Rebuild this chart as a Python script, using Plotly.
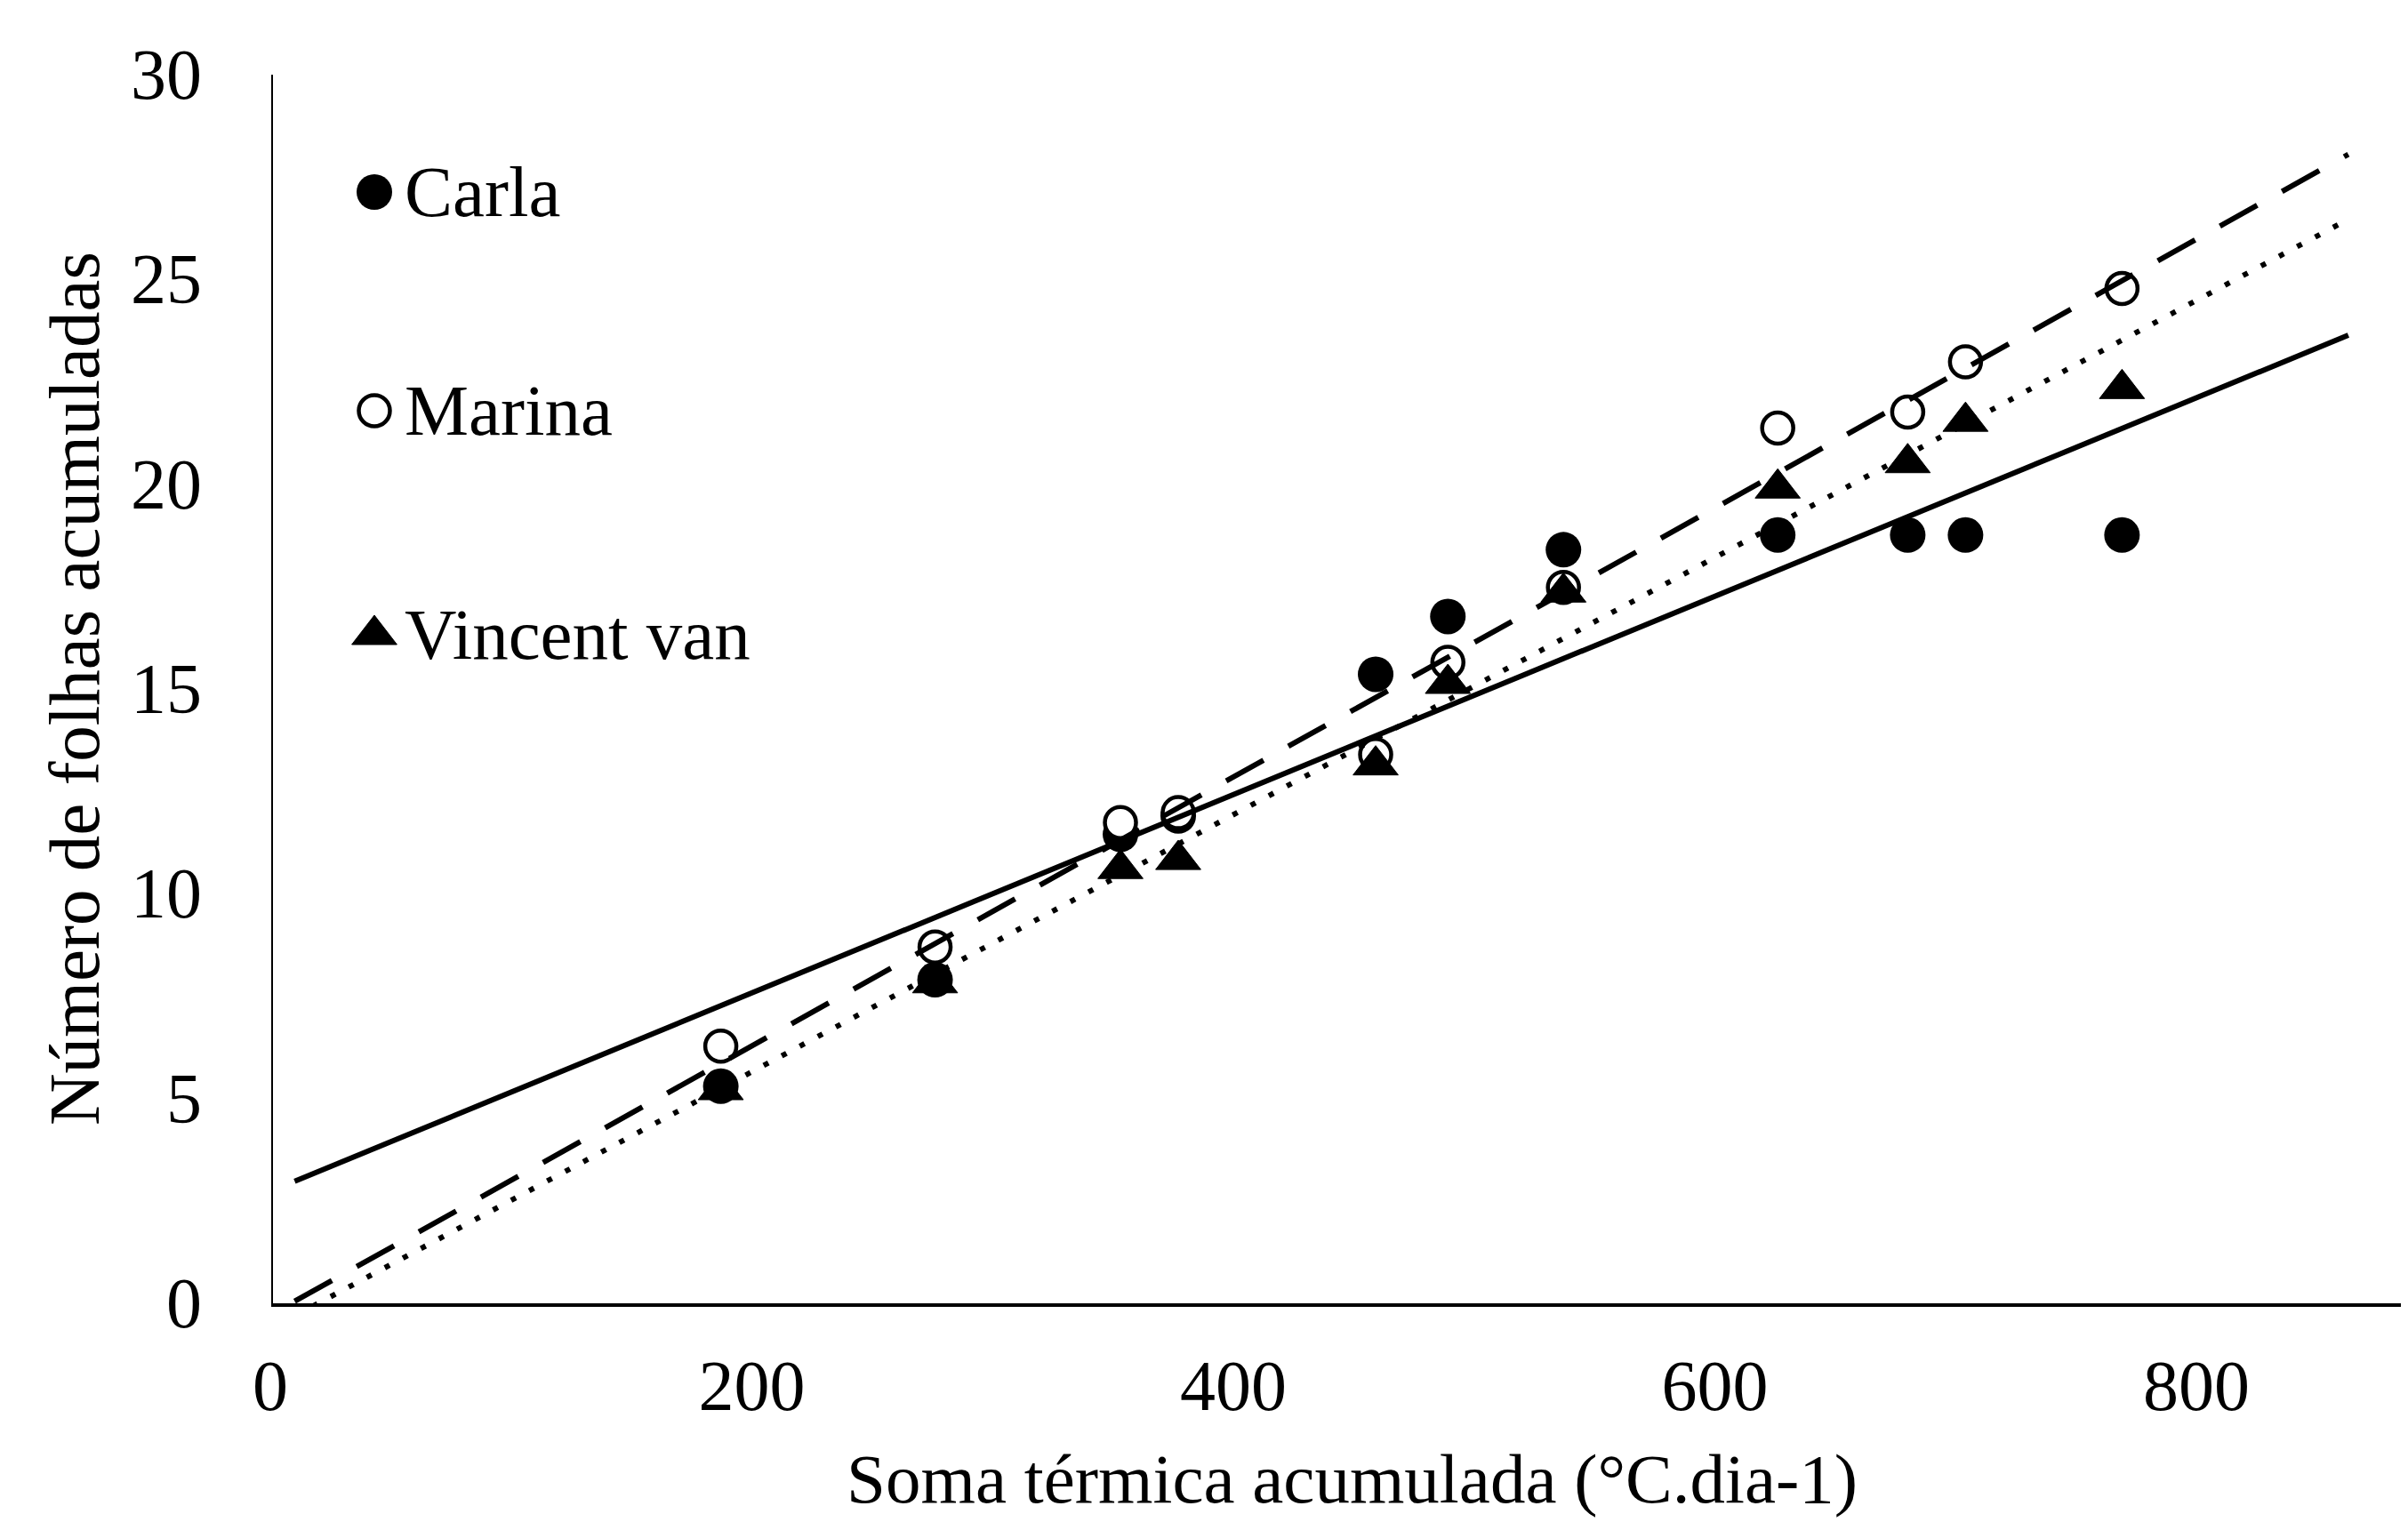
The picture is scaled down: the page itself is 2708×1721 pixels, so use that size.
import plotly.graph_objects as go
import numpy as np

# ---- data ----
soma_termica = [186, 275, 352, 376, 458, 488, 536, 625, 679, 703, 768]
carla = [5.3, 7.9, 11.45, 11.9, 15.36, 16.77, 18.4, 18.76, 18.76, 18.76, 18.76]
marina = [6.28, 8.70, 11.74, 11.98, 13.4, 15.65, 17.48, 21.37, 21.76, 22.99, 24.78]
vincent = [5.21, 7.82, 10.61, 10.83, 13.14, 15.13, 17.36, 19.9, 20.52, 21.53, 22.33]

series_names = ["Carla", "Marina", "Vincent van"]
# linear trend lines (intercept, slope)
trend_intercepts = [2.76, -0.245, -0.59]
trend_slopes = [0.02422, 0.03283, 0.03139]
trend_x_span = [9, 862]

x_ticks = [0, 200, 400, 600, 800]
y_ticks = [0, 5, 10, 15, 20, 25, 30]
x_title = "Soma térmica acumulada (°C.dia-1)"
y_title = "Número de folhas acumuladas"

FONT = "Liberation Serif, Times New Roman, serif"
VW, VH = 2708, 1721          # browser window
OFF = 8                      # default body margin of the html page
W, H = VW - 2 * OFF, VH - 2 * OFF
# plot box in window pixels
PX0, PX1, PY0, PY1 = 307, 2700, 84, 1466
L, R = PX0 - OFF, (W + OFF) - PX1
T, B = PY0 - OFF, (H + OFF) - PY1
PW, PH = PX1 - PX0, PY1 - PY0
X_MAX = PW / 2.7075


def px_to_paper_x(px):
    return (px - PX0) / PW


def px_to_paper_y(py):
    return (PY1 - py) / PH


marker_styles = [
    dict(symbol="circle", size=40, color="black", line=dict(width=0, color="black")),
    dict(symbol="circle", size=35, color="white", line=dict(width=4.5, color="black")),
    dict(symbol="triangle-up", size=44, color="black", line=dict(width=1, color="black")),
]
line_styles = [
    dict(color="black", width=6, dash="solid"),
    dict(color="black", width=6, dash="48px,32px"),
    dict(color="black", width=6, dash="6px,17px"),
]

fig = go.Figure()
for name, ys, ms in zip(series_names, [carla, marina, vincent], marker_styles):
    fig.add_trace(go.Scatter(x=soma_termica, y=ys, mode="markers", name=name,
                             marker=ms, showlegend=False, cliponaxis=False))

xs = np.array(trend_x_span, dtype=float)
for a, b, ls in zip(trend_intercepts, trend_slopes, line_styles):
    fig.add_trace(go.Scatter(x=xs, y=a + b * xs, mode="lines", line=ls,
                             showlegend=False, hoverinfo="skip"))

# custom legend (large glyphs) on an overlay axis in plot-fraction units
leg_x = px_to_paper_x(421)
leg_rows_px = [216, 462, 714]
for name, row, ms in zip(series_names, leg_rows_px, marker_styles):
    yy = px_to_paper_y(row)
    fig.add_trace(go.Scatter(x=[leg_x], y=[yy], mode="markers", marker=ms,
                             xaxis="x2", yaxis="y2", showlegend=False,
                             hoverinfo="skip", cliponaxis=False))
    fig.add_annotation(text=name, xref="paper", yref="paper",
                       x=px_to_paper_x(453), y=yy, xanchor="left", yanchor="middle",
                       showarrow=False, font=dict(family=FONT, size=81, color="black"))

fig.add_annotation(text=y_title, xref="paper", yref="paper", x=px_to_paper_x(84),
                   y=0.5, textangle=-90, xanchor="center", yanchor="middle",
                   showarrow=False, font=dict(family=FONT, size=81, color="black"))
fig.add_annotation(text=x_title, xref="paper", yref="paper", x=px_to_paper_x(1520),
                   y=px_to_paper_y(1663), xanchor="center", yanchor="middle",
                   showarrow=False, font=dict(family=FONT, size=79, color="black"))

fig.update_layout(
    width=W, height=H,
    margin=dict(l=L, r=R, t=T, b=B, pad=0),
    paper_bgcolor="white", plot_bgcolor="white",
    font=dict(family=FONT, size=80, color="black"),
    xaxis=dict(range=[0, X_MAX], tickvals=x_ticks, ticktext=[str(v) for v in x_ticks],
               showgrid=False, zeroline=False, showline=True, linecolor="black",
               linewidth=4, ticks="", ticklabelstandoff=20, ticklabelshift=-3,
               tickfont=dict(family=FONT, size=80, color="black")),
    yaxis=dict(range=[0, 30], tickvals=y_ticks, ticktext=[str(v) for v in y_ticks],
               showgrid=False, zeroline=False, showline=True, linecolor="black",
               linewidth=2, ticks="", ticklabelstandoff=62, ticklabelshift=-1,
               tickfont=dict(family=FONT, size=80, color="black")),
    xaxis2=dict(overlaying="x", range=[0, 1], visible=False, anchor="y2"),
    yaxis2=dict(overlaying="y", range=[0, 1], visible=False, anchor="x2"),
    showlegend=False,
)

fig.write_html("out.html")
